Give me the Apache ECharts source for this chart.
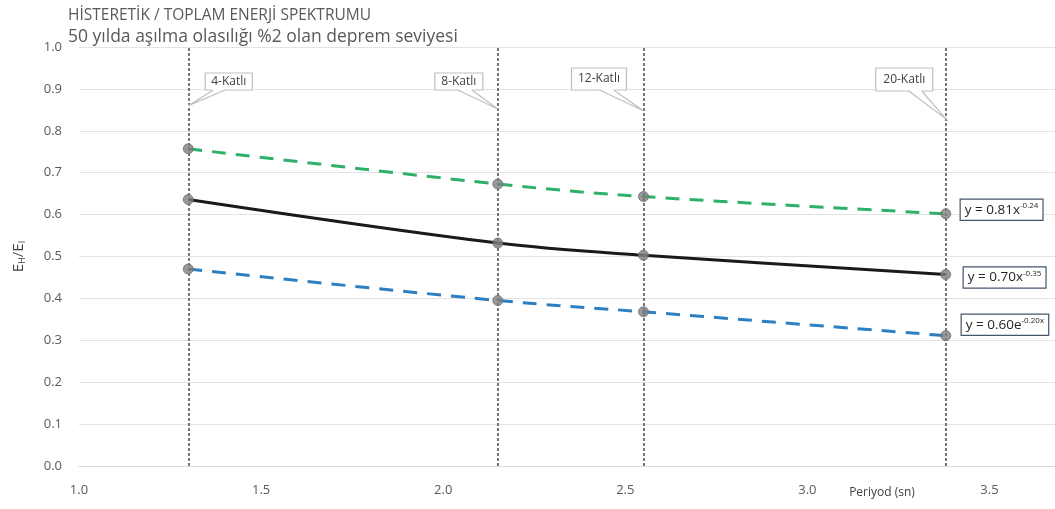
<!DOCTYPE html>
<html>
<head>
<meta charset="utf-8">
<script src="https://cdn.jsdelivr.net/npm/echarts@6/dist/echarts.min.js"></script>
<style>
html,body{margin:0;padding:0;background:#fff;}
#chart{width:1055px;height:509px;}
</style>
</head>
<body>
<div id="chart"></div>
<script>
// ---- data ----
const periods = [1.30, 2.15, 2.55, 3.38];
const storeyLabels = ['4-Katlı', '8-Katlı', '12-Katlı', '20-Katlı'];
const greenVals = [0.757, 0.673, 0.643, 0.602];
const blackVals = [0.636, 0.532, 0.503, 0.457];
const blueVals  = [0.470, 0.395, 0.368, 0.311];
const eqBase = ['y = 0.81x', 'y = 0.70x', 'y = 0.60e'];
const eqExp  = ['-0.24', '-0.35', '-0.20x'];
const titleText = 'HİSTERETİK / TOPLAM ENERJİ SPEKTRUMU';
const subText = '50 yılda aşılma olasılığı %2 olan deprem seviyesi';
const xName = 'Periyod (sn)';

const FONT = '"Open Sans", sans-serif';
const pairs = vals => periods.map((p, i) => [p, vals[i]]);

const chart = echarts.init(document.getElementById('chart'), null, {renderer: 'canvas'});

const lineSeries = (name, vals, color, type) => ({
  name, type: 'line', data: pairs(vals), smooth: 0.35, symbol: 'none',
  lineStyle: {color, width: 3, type}, z: 3, silent: true
});

const option = {
  animation: false,
  backgroundColor: '#fff',
  title: {
    text: titleText, subtext: subText,
    left: 63, top: 1, itemGap: 0,
    textStyle: {fontFamily: FONT, fontSize: 15.5, fontWeight: 'normal', color: '#595959', lineHeight: 20},
    subtextStyle: {fontFamily: FONT, fontSize: 17.5, color: '#595959', lineHeight: 22}
  },
  grid: {left: 79, right: 0, top: 47, bottom: 43, containLabel: false},
  xAxis: {
    type: 'value', min: 1.0, max: 3.68, interval: 0.5,
    axisLine: {show: true, lineStyle: {color: '#d9d9d9', width: 1}},
    axisTick: {show: false},
    splitLine: {show: false},
    axisLabel: {showMaxLabel: false, fontFamily: FONT, fontSize: 13, color: '#595959', margin: 18,
      formatter: v => v.toFixed(1)}
  },
  yAxis: {
    type: 'value', min: 0, max: 1.0, interval: 0.1,
    name: 'E{sub|H}/E{sub|I}', nameLocation: 'middle', nameGap: 52, nameRotate: 90,
    nameTextStyle: {fontFamily: FONT, fontSize: 15, color: '#404040',
      rich: {sub: {fontFamily: FONT, fontSize: 9, color: '#404040', padding: [8, 0, 0, 0]}}},
    axisLine: {show: false}, axisTick: {show: false},
    splitLine: {show: true, lineStyle: {color: '#e3e3e3', width: 1}},
    axisLabel: {fontFamily: FONT, fontSize: 13, color: '#595959', margin: 17,
      formatter: v => v.toFixed(1)}
  },
  series: [
    lineSeries('green', greenVals, '#2fb06a', [14, 10]),
    lineSeries('black', blackVals, '#1a1a1a', 'solid'),
    lineSeries('blue', blueVals, '#2e7fc1', [14, 10]),
    {
      name: 'points', type: 'scatter', z: 5, silent: true,
      data: [...pairs(greenVals), ...pairs(blackVals), ...pairs(blueVals)],
      symbol: 'circle', symbolSize: 10,
      itemStyle: {color: '#808080', borderColor: '#6e6e6e', borderWidth: 1},
      markLine: {
        silent: true, symbol: 'none', label: {show: false},
        lineStyle: {color: '#555555', width: 1.6, type: [3, 2]},
        data: periods.map(p => ({xAxis: p}))
      }
    }
  ]
};
chart.setOption(option);

// ---- annotations placed through the chart's scales ----
function px(x, y) { return chart.convertToPixel({gridIndex: 0}, [x, y]); }
const graphics = [];
const callCfg = [
  {l: 17, w: 47, t: 73, b: 90, bx1: 25, bx2: 37, tip: 0.860},
  {l: -63, w: 48, t: 73, b: 90, bx1: -40, bx2: -26, tip: 0.852},
  {l: -72, w: 55, t: 68, b: 90, bx1: -44, bx2: -30, tip: 0.848},
  {l: -70, w: 57, t: 68, b: 91, bx1: -37, bx2: -24, tip: 0.829}
];
periods.forEach((p, i) => {
  const c = callCfg[i];
  const lx = px(p, 0)[0];
  const tipY = px(p, c.tip)[1];
  const x0 = lx + c.l;
  graphics.push({type: 'rect', shape: {x: x0, y: c.t, width: c.w, height: c.b - c.t},
    style: {fill: '#fff', stroke: '#bfbfbf', lineWidth: 1.2}, z: 100});
  graphics.push({type: 'polygon', shape: {points: [[lx + c.bx1, c.b - 1], [lx - 0.5 * Math.sign(c.l), tipY], [lx + c.bx2, c.b - 1]]},
    style: {fill: '#fff', stroke: null}, z: 101});
  graphics.push({type: 'polyline', shape: {points: [[lx + c.bx1, c.b], [lx, tipY], [lx + c.bx2, c.b]]},
    style: {fill: null, stroke: '#bfbfbf', lineWidth: 1.2}, z: 102});
  graphics.push({type: 'text', x: x0 + c.w / 2, y: (c.t + c.b) / 2, z: 103,
    style: {text: storeyLabels[i], fontFamily: FONT, fontSize: 12, fill: '#404040', align: 'center', verticalAlign: 'middle'}});
});
// trendline equations next to last points
const lastVals = [greenVals[3], blackVals[3], blueVals[3]];
const eqOff = [{dx: 15, dy: -4}, {dx: 18, dy: 3}, {dx: 16, dy: -11}];
lastVals.forEach((v, i) => {
  const pt = px(periods[3], v);
  graphics.push({type: 'text', x: pt[0] + eqOff[i].dx, y: pt[1] + eqOff[i].dy, z: 110,
    style: {
      text: eqBase[i] + '{sup|' + eqExp[i] + '}',
      fontFamily: FONT, fontSize: 13.5, fill: '#262626', verticalAlign: 'middle',
      backgroundColor: '#fff', borderColor: '#44546a', borderWidth: 1.2, padding: [2, 4, 2, 4],
      rich: {sup: {fontFamily: FONT, fontSize: 8, fill: '#262626', padding: [0, 0, 8, 0]}}
    }});
});
// x axis name
const xn = px(3.205, 0);
graphics.push({type: 'text', x: xn[0], y: xn[1] + 27, z: 110,
  style: {text: xName, fontFamily: FONT, fontSize: 12, fill: '#404040', align: 'center', verticalAlign: 'middle'}});
chart.setOption({graphic: graphics});
</script>
</body>
</html>
